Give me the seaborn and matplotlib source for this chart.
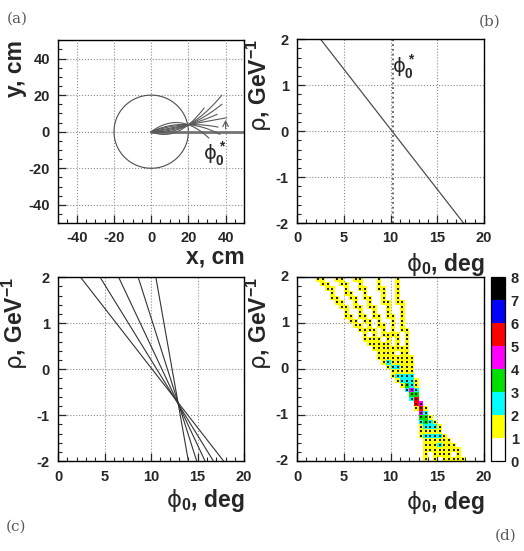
import numpy as np
import pandas as pd
import matplotlib
matplotlib.use("Agg")
import matplotlib.pyplot as plt
from matplotlib.colors import ListedColormap
from matplotlib.ticker import MultipleLocator
import seaborn as sns

# --- данные ---
# (a) трек-кандидаты через одну точку (хит) из начала координат
detector_radius = 20
hit_x, hit_y = 20, 3.8
track_end_x = [28.5, 38, 38, 35.5, 40.5, 36, 37, 31]
track_end_y = [13, 20, 15, 9.5, 7.6, 2.5, -1.5, -3.5]

# (b) одна прямая в пространстве (phi0, rho)
line_b_phi = [2.5, 17.8]
line_b_rho = [2, -2]
phi0_star = 10.2

# (c) пять прямых: phi0 при rho=+2 и rho=-2
lines_phi_top = [2.4, 4.5, 6.5, 8.6, 10.5]
lines_phi_bot = [17.8, 16.7, 15.8, 14.9, 14.0]
rho_top, rho_bot = 2, -2

# (d) гистограмма: 40x40 ячеек по (phi0, rho)
phi_bin = 0.5
rho_bin = 0.1
n_phi, n_rho = 40, 40
level_colors = ["white", "#ffff00", "#00ffff", "#00e000", "#ff00ff",
                "#ff0000", "#0000ff", "#000000"]

# --- оформление ---
sns.set_style("ticks")
plt.rcParams["font.family"] = ["Liberation Sans", "DejaVu Sans"]
plt.rcParams["axes.unicode_minus"] = False
plt.rcParams["mathtext.fontset"] = "custom"
plt.rcParams["mathtext.rm"] = "Liberation Sans:bold"
plt.rcParams["mathtext.bf"] = "Liberation Sans:bold"
plt.rcParams["mathtext.sf"] = "Liberation Sans:bold"
plt.rcParams["mathtext.it"] = "DejaVu Sans"

fig = plt.figure(figsize=(5.24, 5.51), dpi=100)
ax_a = fig.add_axes([0.111, 0.595, 0.355, 0.332])
ax_b = fig.add_axes([0.567, 0.595, 0.357, 0.334])
ax_c = fig.add_axes([0.111, 0.163, 0.355, 0.334])
ax_d = fig.add_axes([0.567, 0.163, 0.357, 0.334])
cax = fig.add_axes([0.937, 0.163, 0.027, 0.334])

lab_size = 16.5
tick_size = 10.5
phi_label = r"$\phi_0$, deg"
rho_label = r"$\rho$, GeV$^{-1}$"


def style_axis(ax):
    for s in ax.spines.values():
        s.set_visible(True)
        s.set_color("black")
        s.set_linewidth(1.0)
    ax.tick_params(which="both", direction="in", top=False, right=False,
                   labelsize=tick_size, pad=6)
    ax.tick_params(which="major", length=6, width=0.9)
    ax.tick_params(which="minor", length=3, width=0.8)
    ax.grid(True, which="major", ls=":", lw=0.8, color="0.55")
    ax.set_axisbelow(True)
    for t in ax.get_xticklabels() + ax.get_yticklabels():
        t.set_fontweight("bold")


# (a)
theta = np.linspace(0, 2 * np.pi, 300)
sns.lineplot(x=detector_radius * np.cos(theta), y=detector_radius * np.sin(theta),
             sort=False, estimator=None, color="0.3", lw=0.8, ax=ax_a)
sns.lineplot(x=[0, 50], y=[0, 0], color="0.45", lw=2.0, ax=ax_a)
for xe, ye in zip(track_end_x, track_end_y):
    coef = np.polyfit([0, hit_x, xe], [0, hit_y, ye], 2)
    xs = np.linspace(0, xe, 80)
    sns.lineplot(x=xs, y=np.polyval(coef, xs), sort=False, estimator=None,
                 color="0.35", lw=0.8, ax=ax_a)
ax_a.annotate("", xy=(40, 8), xytext=(40, 0),
              arrowprops=dict(arrowstyle="->", color="0.35", lw=0.8))
ax_a.text(34.4, -12.6, r"$\phi_0^*$", fontsize=14, ha="center", va="center")
ax_a.set_xlim(-50, 50)
ax_a.set_ylim(-50, 50)
ax_a.set_xticks([-40, -20, 0, 20, 40])
ax_a.set_yticks([-40, -20, 0, 20, 40])
ax_a.xaxis.set_minor_locator(MultipleLocator(5))
ax_a.yaxis.set_minor_locator(MultipleLocator(5))
style_axis(ax_a)
ax_a.set_xlabel("x, cm", fontsize=lab_size, fontweight="bold", loc="right")
ax_a.set_ylabel("y, cm", fontsize=lab_size, fontweight="bold", loc="top")
ax_a.xaxis.set_label_coords(1.0, -0.12)
ax_a.yaxis.set_label_coords(-0.165, 1.0)


def phi_rho_axis(ax):
    ax.set_xlim(0, 20)
    ax.set_ylim(-2, 2)
    ax.set_xticks([0, 5, 10, 15, 20])
    ax.set_yticks([-2, -1, 0, 1, 2])
    ax.xaxis.set_minor_locator(MultipleLocator(1))
    ax.yaxis.set_minor_locator(MultipleLocator(0.2))


# (b)
sns.lineplot(x=line_b_phi, y=line_b_rho, color="0.3", lw=0.9, ax=ax_b)
ax_b.axvline(phi0_star, ls=":", lw=1.3, color="0.35")
ax_b.text(11.4, 1.37, r"$\phi_0^*$", fontsize=14, ha="center", va="center")
phi_rho_axis(ax_b)
style_axis(ax_b)

# (c)
rows = []
for i, (pt, pb) in enumerate(zip(lines_phi_top, lines_phi_bot)):
    rows.append({"line": i, "phi": pt, "rho": rho_top})
    rows.append({"line": i, "phi": pb, "rho": rho_bot})
df_c = pd.DataFrame(rows)
sns.lineplot(data=df_c, x="phi", y="rho", units="line", estimator=None,
             sort=False, color="0.2", lw=0.8, ax=ax_c)
phi_rho_axis(ax_c)
style_axis(ax_c)

# (d) бинирование прямых из (c) в ячейки
counts = np.zeros((n_rho, n_phi), dtype=int)
for pt, pb in zip(lines_phi_top, lines_phi_bot):
    for k in range(n_rho):
        lo = rho_bot + k * rho_bin
        hi = lo + rho_bin
        p_lo = pt + (pb - pt) * (rho_top - lo) / (rho_top - rho_bot)
        p_hi = pt + (pb - pt) * (rho_top - hi) / (rho_top - rho_bot)
        j0 = int(np.floor(min(p_lo, p_hi) / phi_bin))
        j1 = int(np.floor(max(p_lo, p_hi) / phi_bin - 1e-9))
        j0, j1 = max(j0, 0), min(j1, n_phi - 1)
        if j0 <= j1:
            counts[k, j0:j1 + 1] += 1

grid = counts[::-1]  # верхняя строка = rho = +2
sns.heatmap(grid, mask=grid == 0, cmap=ListedColormap(level_colors),
            vmin=0, vmax=8, ax=ax_d, cbar_ax=cax,
            cbar_kws={"ticks": range(9)})
ii, jj = np.nonzero(grid)
sns.scatterplot(x=jj + 0.5, y=ii + 0.5, marker="s", s=3, color="#202020",
                linewidth=0, ax=ax_d)
ax_d.set_xlim(0, n_phi)
ax_d.set_ylim(n_rho, 0)
ax_d.set_xticks([0, 10, 20, 30, 40])
ax_d.set_xticklabels(["0", "5", "10", "15", "20"], rotation=0)
ax_d.set_yticks([0, 10, 20, 30, 40])
ax_d.set_yticklabels(["2", "1", "0", "-1", "-2"], rotation=0)
ax_d.xaxis.set_minor_locator(MultipleLocator(2))
ax_d.yaxis.set_minor_locator(MultipleLocator(2))
style_axis(ax_d)

cbar = ax_d.collections[0].colorbar
cbar.outline.set_edgecolor("black")
cbar.outline.set_linewidth(0.9)
cax.tick_params(length=0, labelsize=tick_size, pad=4)
for t in cax.get_yticklabels():
    t.set_fontweight("bold")

for ax in (ax_b, ax_c, ax_d):
    ax.set_xlabel(phi_label, fontsize=lab_size, fontweight="bold", loc="right")
    ax.set_ylabel(rho_label, fontsize=lab_size, fontweight="bold", loc="top")
ax_b.xaxis.set_label_coords(1.0, -0.15)
ax_b.yaxis.set_label_coords(-0.125, 1.0)
ax_c.xaxis.set_label_coords(1.0, -0.14)
ax_c.yaxis.set_label_coords(-0.15, 1.0)
ax_d.xaxis.set_label_coords(1.0, -0.15)
ax_d.yaxis.set_label_coords(-0.125, 1.0)

# подписи панелей
for txt, x, y in [("(a)", 0.032, 0.967), ("(b)", 0.935, 0.96),
                  ("(c)", 0.03, 0.045), ("(d)", 0.965, 0.028)]:
    fig.text(x, y, txt, family="DejaVu Serif", fontweight="normal",
             fontsize=11, color="0.35", ha="center", va="center")

fig.savefig("out.png", dpi=100)
